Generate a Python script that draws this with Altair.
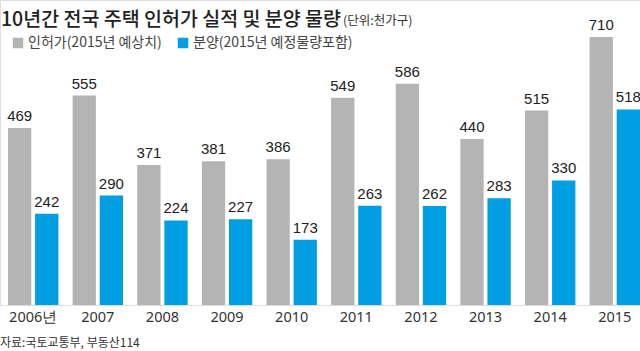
import altair as alt
import pandas as pd

years = ["2006년", "2007", "2008", "2009", "2010", "2011", "2012", "2013", "2014", "2015"]
permits = [469, 555, 371, 381, 386, 549, 586, 440, 515, 710]
sales = [242, 290, 224, 227, 173, 263, 262, 283, 330, 518]
series = ["인허가(2015년 예상치)", "분양(2015년 예정물량포함)"]
colors = ["#b4b4b4", "#009ee3"]

rows = []
for y, p, s in zip(years, permits, sales):
    rows.append({"year": y, "series": series[0], "value": p})
    rows.append({"year": y, "series": series[1], "value": s})
df = pd.DataFrame(rows)

x_enc = alt.X("year:N", sort=years,
              scale=alt.Scale(range=[8, 640], paddingInner=0.22, paddingOuter=0),
              axis=alt.Axis(title=None, domain=False, ticks=False, labelAngle=0,
                            labelFont="Noto Sans", labelFontSize=14.5,
                            labelColor="#333333", labelPadding=5))
xoff_enc = alt.XOffset("series:N", sort=series,
                       scale=alt.Scale(domain=series, paddingInner=0.14, paddingOuter=0))
y_enc = alt.Y("value:Q", scale=alt.Scale(domain=[0, 808], nice=False), axis=None)
color_enc = alt.Color("series:N", sort=series,
                      scale=alt.Scale(domain=series, range=colors),
                      legend=alt.Legend(title=None, orient="none", legendX=11, legendY=36,
                                        direction="horizontal", symbolType="square",
                                        symbolSize=110, symbolStrokeWidth=0,
                                        labelFont="Noto Sans CJK KR", labelFontSize=14,
                                        labelColor="#444444", columnPadding=14,
                                        labelOffset=3))

base = alt.Chart(df)
bars = base.mark_bar().encode(x=x_enc, xOffset=xoff_enc, y=y_enc, color=color_enc)
labels = base.mark_text(baseline="bottom", dy=-4, font="Liberation Sans", fontSize=15,
                        color="#222222").encode(
    x=x_enc, xOffset=xoff_enc, y=y_enc, text="value:Q")

one = alt.Data(values=[{}])
title = alt.Chart(one).mark_text(align="left", baseline="alphabetic", font="Noto Sans CJK KR",
                                 fontSize=19.5, fontWeight=500, color="#222222").encode(
    x=alt.value(1), y=alt.value(26), text=alt.value("10년간 전국 주택 인허가 실적 및 분양 물량"))
unit = alt.Chart(one).mark_text(align="left", baseline="alphabetic", font="Noto Sans CJK KR",
                                fontSize=12.5, color="#333333").encode(
    x=alt.value(343), y=alt.value(25), text=alt.value("(단위:천가구)"))
source = alt.Chart(one).mark_text(align="left", baseline="alphabetic", font="Noto Sans CJK KR",
                                  fontSize=12, color="#333333").encode(
    x=alt.value(0), y=alt.value(347), text=alt.value("자료:국토교통부, 부동산114"))

chart = alt.layer(bars, labels, title, unit, source).properties(
    width=640, height=305,
    autosize=alt.AutoSizeParams(type="none"),
    padding={"left": 0, "top": 0, "right": 0, "bottom": 46},
).configure_view(stroke=None).configure(background="white", font="Noto Sans")

chart.save("out.html", embed_options={"renderer": "svg", "actions": False})
